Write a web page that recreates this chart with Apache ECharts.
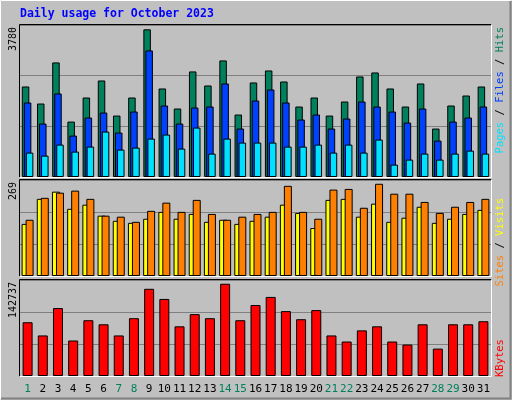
<!DOCTYPE html>
<html>
<head>
<meta charset="utf-8">
<script src="https://cdn.jsdelivr.net/npm/echarts@6/dist/echarts.min.js"></script>
<style>html,body{margin:0;padding:0;background:#c0c0c0}#chart{width:512px;height:400px}</style>
</head>
<body>
<div id="chart"></div>
<script>
const days = ['1','2','3','4','5','6','7','8','9','10','11','12','13','14','15','16','17','18','19','20','21','22','23','24','25','26','27','28','29','30','31'];
const weekend = [1,7,8,14,15,21,22,28,29];

const hits = [2317,1881,2933,1419,2035,2471,1573,2035,3780,2266,1753,2702,2343,2984,1599,2420,2727,2445,1804,2035,1573,1932,2574,2676,2266,1804,2394,1240,1830,2086,2317];
const files = [1907,1368,2138,1060,1522,1650,1137,1676,3240,1830,1368,1778,1804,2394,1240,1958,2240,1907,1471,1599,1240,1496,1932,1804,1676,1394,1753,932,1419,1522,1804];
const pages = [624,547,829,650,778,1163,701,752,983,1086,727,1265,599,983,881,881,881,778,778,829,624,829,624,958,316,445,599,445,599,675,599];
const sites = [152,225,246,196,208,176,161,155,167,187,167,181,158,164,152,161,173,208,184,140,222,225,173,211,158,170,202,155,167,181,193];
const visits = [164,228,243,249,225,176,173,158,190,214,187,222,181,164,173,181,187,263,187,167,252,254,199,269,240,240,216,184,202,216,225];
const kbytes = [83125,62737,105085,54895,86263,79990,62737,89399,134882,119198,76853,95672,89399,142737,86263,109788,122335,100378,87830,101946,62737,53326,70578,76853,53326,48620,79990,42347,79990,79990,84694];

const maxLabels = ['3780', '269', '142737'];
const axisMax = [3891, 280, 148500];

const mono = '"DejaVu Sans Mono", monospace';
const panels = [
  { top: 25, height: 152 },
  { top: 180, height: 96 },
  { top: 280, height: 96 }
];

const grids = panels.map(p => ({ left: 20, width: 471, top: p.top, height: p.height,
  show: true, backgroundColor: '#c0c0c0', borderWidth: 0 }));

const xAxes = panels.map((p, i) => ({
  type: 'category', gridIndex: i, data: days,
  axisLine: { show: false }, axisTick: { show: false },
  axisLabel: i === 2 ? {
    show: true, margin: 8, fontFamily: mono, fontSize: 11, interval: 0,
    color: (v) => weekend.includes(+v) ? '#00805c' : '#000'
  } : { show: false }
}));

const yAxes = axisMax.map((m, i) => ({
  type: 'value', gridIndex: i, min: 0, max: m, interval: m / 3,
  axisLabel: { show: false }, axisLine: { show: false }, axisTick: { show: false },
  splitLine: { lineStyle: { color: '#808080', width: 1 } }
}));

const border = { borderColor: '#000', borderWidth: 1 };
function bar(name, data, color, idx, width, gap) {
  return { name, type: 'bar', data, xAxisIndex: idx, yAxisIndex: idx,
    barWidth: width, barGap: gap, animation: false,
    itemStyle: Object.assign({ color }, border) };
}

const series = [
  bar('Hits', hits, '#00805c', 0, 7.5, '-73%'),
  bar('Files', files, '#0040ff', 0, 7.5, '-73%'),
  bar('Pages', pages, '#00e0ff', 0, 7.5, '-73%'),
  bar('Sites', sites, '#ffff00', 1, 8, '-50%'),
  bar('Visits', visits, '#ff8000', 1, 8, '-50%'),
  bar('KBytes', kbytes, '#ff0000', 2, 10, '0%')
];

// bevel frames
const graphic = [
  { type: 'polyline', shape: { points: [[0.5,399.5],[0.5,0.5],[511.5,0.5]] }, style: { stroke: '#fff', lineWidth: 1, fill: null } },
  { type: 'polyline', shape: { points: [[1,398.5],[510.5,398.5],[510.5,1]] }, style: { stroke: '#808080', lineWidth: 2, fill: null } }
];
panels.forEach(p => {
  const t = p.top - 0.5, b = p.top + p.height + 0.5;
  graphic.push({ type: 'polyline', shape: { points: [[19.5,b],[19.5,t],[491.5,t]] }, style: { stroke: '#000', lineWidth: 1, fill: null }, z: 10 });
  graphic.push({ type: 'polyline', shape: { points: [[19.5,b],[491.5,b],[491.5,t]] }, style: { stroke: '#fff', lineWidth: 1, fill: null }, z: 10 });
});
graphic.push({ type: 'text', left: 20, top: 8, style: { text: 'Daily usage for October 2023', font: 'bold 11.5px ' + mono, fill: '#0000ff' } });
maxLabels.forEach((t, i) => {
  graphic.push({ type: 'text', x: 13, y: panels[i].top + 2, rotation: Math.PI / 2,
    style: { text: t, font: '10px ' + mono, fill: '#000', align: 'right', verticalAlign: 'middle' } });
});
function rightLabel(y, align, parts) {
  graphic.push({ type: 'text', x: 500, y, rotation: Math.PI / 2,
    style: { text: parts.map((p, k) => '{s' + k + '|' + p[0] + '}').join(''),
      rich: Object.fromEntries(parts.map((p, k) => ['s' + k, { fill: p[1], font: '10.5px ' + mono }])),
      align, verticalAlign: 'middle' } });
}
rightLabel(27, 'right', [['Pages','#00e0ff'],[' / ','#000'],['Files','#0040ff'],[' / ','#000'],['Hits','#00805c']]);
rightLabel(198, 'right', [['Sites','#ff8000'],[' / ','#000'],['Visits','#ffff00']]);
rightLabel(377, 'left', [['KBytes','#ff0000']]);

const chart = echarts.init(document.getElementById('chart'));
chart.setOption({ backgroundColor: '#c0c0c0', animation: false, grid: grids, xAxis: xAxes, yAxis: yAxes, series, graphic });
</script>
</body>
</html>
